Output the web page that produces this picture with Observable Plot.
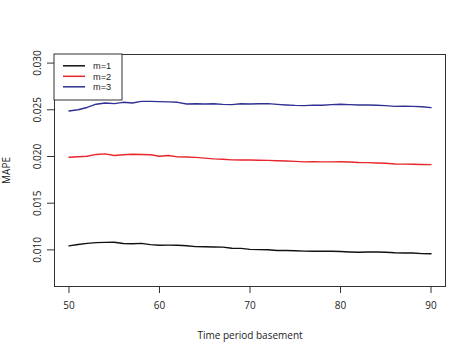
<!DOCTYPE html>
<html>
<head>
<meta charset="utf-8">
<script src="https://cdn.jsdelivr.net/npm/d3@7"></script>
<script src="https://cdn.jsdelivr.net/npm/@observablehq/plot@0.6"></script>
<style>
  html, body { margin: 0; padding: 0; background: white; }
</style>
</head>
<body>
<div id="chart"></div>
<script>
const periods = [50,51,52,53,54,55,56,57,58,59,60,61,62,63,64,65,66,67,68,69,70,
                 71,72,73,74,75,76,77,78,79,80,81,82,83,84,85,86,87,88,89,90];
const series = ["m=1", "m=2", "m=3"];
const colors = ["#111111", "#e8262b", "#2e3192"];
const m1 = [0.01043,0.01058,0.01070,0.01078,0.01080,0.01082,0.01068,0.01066,0.01070,0.01056,
            0.01050,0.01051,0.01050,0.01044,0.01035,0.01033,0.01031,0.01030,0.01018,0.01016,
            0.01005,0.01003,0.01002,0.00994,0.00994,0.00991,0.00987,0.00985,0.00985,0.00986,
            0.00982,0.00978,0.00975,0.00978,0.00978,0.00975,0.00969,0.00967,0.00966,0.00960,0.00958];
const m2 = [0.01992,0.01998,0.02002,0.02022,0.02028,0.02010,0.02018,0.02024,0.02022,0.02018,
            0.02003,0.02010,0.01996,0.01994,0.01990,0.01982,0.01974,0.01970,0.01964,0.01962,
            0.01962,0.01960,0.01958,0.01954,0.01952,0.01948,0.01942,0.01945,0.01942,0.01942,
            0.01944,0.01941,0.01936,0.01934,0.01931,0.01928,0.01920,0.01918,0.01917,0.01915,0.01913];
const m3 = [0.02487,0.02500,0.02525,0.02560,0.02573,0.02566,0.02580,0.02573,0.02590,0.02590,
            0.02587,0.02585,0.02580,0.02562,0.02565,0.02562,0.02564,0.02558,0.02555,0.02564,
            0.02562,0.02565,0.02566,0.02558,0.02552,0.02547,0.02545,0.02550,0.02548,0.02555,
            0.02559,0.02555,0.02552,0.02552,0.02548,0.02545,0.02537,0.02538,0.02537,0.02532,0.02523];
const xTicks = [50, 60, 70, 80, 90];
const yTicks = [0.010, 0.015, 0.020, 0.025, 0.030];
const xLabel = "Time period basement";
const yLabel = "MAPE";

const values = [m1, m2, m3];
const data = series.flatMap((s, i) => periods.map((p, j) => ({period: p, mape: values[i][j], series: s})));

function legendMark(index, scales, vals, dims) {
  const g = d3.create("svg:g");
  const x0 = dims.marginLeft, y0 = dims.marginTop;
  g.append("rect").attr("x", x0).attr("y", y0).attr("width", 68).attr("height", 46)
    .attr("fill", "white").attr("stroke", "#333");
  series.forEach((s, i) => {
    const yy = y0 + 11.8 + 10.5 * i;
    g.append("line").attr("x1", x0 + 9).attr("x2", x0 + 31).attr("y1", yy).attr("y2", yy)
      .attr("stroke", scales.color(s)).attr("stroke-width", 1.5);
    g.append("text").attr("x", x0 + 39).attr("y", yy).attr("dy", "0.35em")
      .attr("text-anchor", "start").attr("font-family", "'Liberation Sans', sans-serif")
      .attr("fill", "#222").attr("font-size", 9.2).text(s);
  });
  return g.node();
}

const chart = Plot.plot({
  width: 473,
  height: 354,
  marginLeft: 54,
  marginRight: 28,
  marginTop: 54,
  marginBottom: 68,
  style: {fontFamily: "'Open Sans', sans-serif", fontSize: "10px", background: "white", color: "#222"},
  x: {domain: [48.4, 91.6]},
  y: {domain: [0.00608, 0.03092]},
  color: {domain: series, range: colors},
  marks: [
    Plot.frame({stroke: "#333"}),
    Plot.axisX({ticks: xTicks, tickSize: 7, tickPadding: 8, tickFormat: d => String(d),
      label: xLabel, labelAnchor: "center", labelArrow: "none", labelOffset: 52, stroke: "#333"}),
    Plot.axisY({ticks: yTicks, tickSize: 7, tickPadding: 7, tickRotate: -90, tickFormat: d3.format(".3f"),
      label: yLabel, labelAnchor: "center", labelArrow: "none", labelOffset: 52, stroke: "#333"}),
    Plot.line(data, {x: "period", y: "mape", stroke: "series", strokeWidth: 1.4, curve: "linear"}),
    legendMark
  ]
});
document.getElementById("chart").appendChild(chart);
</script>
</body>
</html>
